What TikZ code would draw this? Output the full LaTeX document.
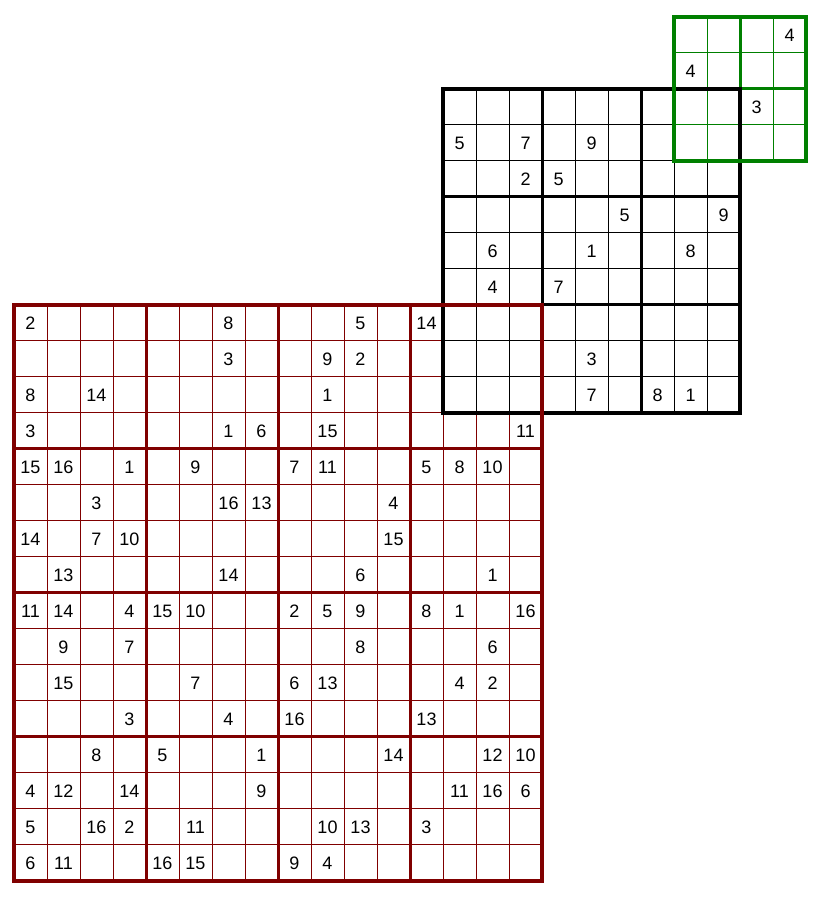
\documentclass[tikz,border=0pt]{standalone}
\usepackage{fontspec}
\setmainfont{Liberation Sans}
\usepackage{tikz}
\usetikzlibrary{positioning}

\definecolor{sudred}{RGB}{128,0,0}
\definecolor{sudgreen}{RGB}{0,128,0}

\tikzset{
    thinline/.style={line width=1pt},
    boxline/.style={line width=3pt},
    borderline/.style={line width=4pt},
    digit/.style={inner sep=0pt, font=\fontsize{18}{20}\selectfont}
}

\begin{document}
\begin{tikzpicture}[x=33pt,y=36pt]
            \useasboundingbox (-14pt,-16pt) rectangle (811pt,881pt);
            \draw[thinline, sudred] (0,0) grid[step=1] (16,16);
            \draw[thinline, black] (13,13) grid[step=1] (22,22);
            \draw[thinline, sudgreen] (20,20) grid[step=1] (24,24);
            \foreach \k in {4,8,12}
                \draw[boxline, sudred] (\k,0) -- (\k,16) (0,\k) -- (16,\k);
            \foreach \k in {16,19}
                \draw[boxline, black] (\k,13) -- (\k,22) (13,\k) -- (22,\k);
            \draw[boxline, sudgreen] (22,20) -- (22,24) (20,22) -- (24,22);
            \draw[borderline, black] (13,13) rectangle (22,22);
            \draw[borderline, sudred] (0,0) rectangle (16,16);
            \draw[borderline, sudgreen] (20,20) rectangle (24,24);
            \foreach \c/\r/\v in {
                1/1/2, 7/1/8, 11/1/5, 13/1/14,
                7/2/3, 10/2/9, 11/2/2,
                1/3/8, 3/3/14, 10/3/1,
                1/4/3, 7/4/1, 8/4/6, 10/4/15, 16/4/11,
                1/5/15, 2/5/16, 4/5/1, 6/5/9, 9/5/7, 10/5/11, 13/5/5, 14/5/8, 15/5/10,
                3/6/3, 7/6/16, 8/6/13, 12/6/4,
                1/7/14, 3/7/7, 4/7/10, 12/7/15,
                2/8/13, 7/8/14, 11/8/6, 15/8/1,
                1/9/11, 2/9/14, 4/9/4, 5/9/15, 6/9/10, 9/9/2, 10/9/5, 11/9/9, 13/9/8, 14/9/1, 16/9/16,
                2/10/9, 4/10/7, 11/10/8, 15/10/6,
                2/11/15, 6/11/7, 9/11/6, 10/11/13, 14/11/4, 15/11/2,
                4/12/3, 7/12/4, 9/12/16, 13/12/13,
                3/13/8, 5/13/5, 8/13/1, 12/13/14, 15/13/12, 16/13/10,
                1/14/4, 2/14/12, 4/14/14, 8/14/9, 14/14/11, 15/14/16, 16/14/6,
                1/15/5, 3/15/16, 4/15/2, 6/15/11, 10/15/10, 11/15/13, 13/15/3,
                1/16/6, 2/16/11, 5/16/16, 6/16/15, 9/16/9, 10/16/4}
                \node[digit] (big-\c-\r) at ({\c-0.5},{16.5-\r}) {\v};
            \foreach \c/\r/\v in {
                1/2/5, 3/2/7, 5/2/9,
                3/3/2, 4/3/5,
                6/4/5, 9/4/9,
                2/5/6, 5/5/1, 8/5/8,
                2/6/4, 4/6/7,
                5/8/3,
                5/9/7, 7/9/8, 8/9/1}
                \node[digit] (mid-\c-\r) at ({12.5+\c},{22.5-\r}) {\v};
            \foreach \c/\r/\v in {4/1/4, 1/2/4, 3/3/3}
                \node[digit] (small-\c-\r) at ({19.5+\c},{24.5-\r}) {\v};
\end{tikzpicture}
\end{document}
